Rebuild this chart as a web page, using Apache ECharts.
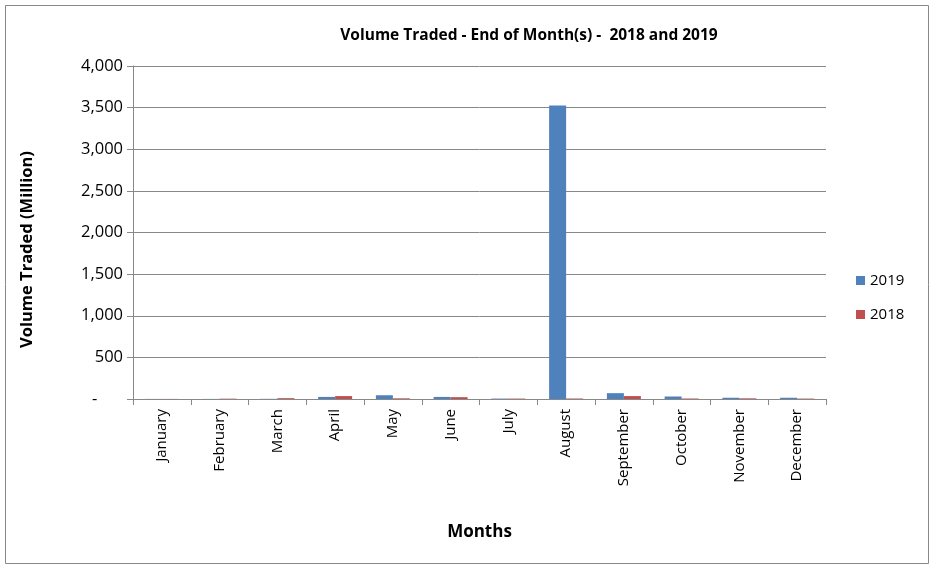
<!DOCTYPE html>
<html><head><meta charset="utf-8">
<script src="https://cdn.jsdelivr.net/npm/echarts@6/dist/echarts.min.js"></script>
<style>html,body{margin:0;padding:0;background:#fff}#c{width:930px;height:565px}</style>
</head><body><div id="c"></div>
<script>
const months = ["January","February","March","April","May","June","July","August","September","October","November","December"];
const vol2019 = [1, 1, 2, 25, 45, 25, 5, 3525, 70, 30, 15, 15];
const vol2018 = [1, 4, 10, 35, 8, 22, 5, 6, 35, 6, 8, 5];
const yTicks = [0, 500, 1000, 1500, 2000, 2500, 3000, 3500, 4000];

const font = '"Open Sans", "Liberation Sans", sans-serif';
const chart = echarts.init(document.getElementById('c'));
chart.setOption({
  animation: false,
  textStyle: {fontFamily: font},
  title: {
    text: 'Volume Traded - End of Month(s) -  2018 and 2019',
    left: 524, top: 23, textAlign: 'center',
    textStyle: {fontSize: 15.5, fontWeight: 'bold', color: '#000', fontFamily: font}
  },
  legend: {
    orient: 'vertical', left: 851, top: 268, itemGap: 19,
    itemWidth: 9, itemHeight: 9, icon: 'rect',
    textStyle: {fontSize: 15, color: '#000', fontFamily: font},
    data: ['2019', '2018']
  },
  grid: {left: 133, right: 104, top: 66, bottom: 166, containLabel: false},
  xAxis: {
    type: 'category', data: months,
    name: 'Months', nameLocation: 'middle', nameGap: 125,
    nameTextStyle: {fontSize: 17, fontWeight: 'bold', color: '#000', fontFamily: font},
    axisLine: {lineStyle: {color: '#888'}},
    axisTick: {show: true, length: 6, lineStyle: {color: '#888'}},
    axisLabel: {rotate: 90, fontSize: 15, color: '#000', margin: 10, fontFamily: font}
  },
  yAxis: {
    type: 'value', min: 0, max: 4000, interval: 500,
    name: 'Volume Traded (Million)', nameLocation: 'middle', nameGap: 97,
    nameTextStyle: {fontSize: 16.5, fontWeight: 'bold', color: '#000', fontFamily: font,
      padding: [0, 34, 0, 0]},
    axisLine: {show: true, lineStyle: {color: '#888'}},
    axisTick: {show: true, length: 6, inside: false, lineStyle: {color: '#888'}},
    axisLabel: {fontSize: 16.5, color: '#000', margin: 10, fontFamily: font,
      formatter: v => yTicks.includes(v) ? (v === 0 ? '-      ' : v.toLocaleString('en-US')) : ''},
    splitLine: {lineStyle: {color: '#888'}}
  },
  series: [
    {name: '2019', type: 'bar', data: vol2019, barWidth: 17, barGap: '0%',
     itemStyle: {color: '#4F81BD'}},
    {name: '2018', type: 'bar', data: vol2018, barWidth: 17,
     itemStyle: {color: '#C0504D'}}
  ],
  graphic: [{type: 'rect', left: 3, top: 3, shape: {width: 923, height: 558},
    style: {fill: 'none', stroke: '#888', lineWidth: 1}, silent: true}]
});
</script></body></html>
